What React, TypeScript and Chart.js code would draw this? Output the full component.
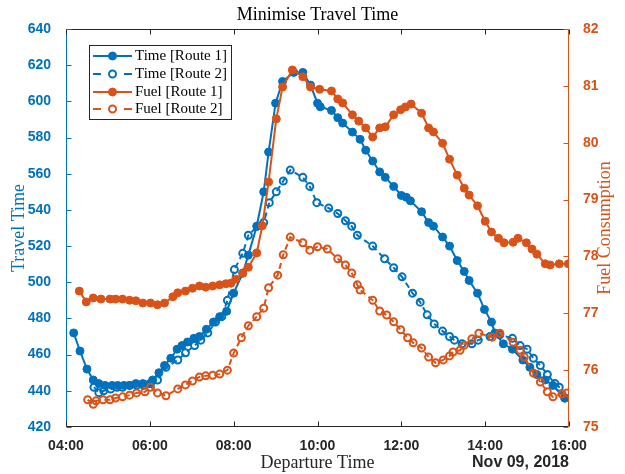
import React, { useEffect, useRef } from 'react';
import { Chart, registerables } from 'chart.js';

Chart.register(...registerables);

const BLUE = '#0072BD';
const ORANGE = '#D95319';
const DARK = '#262626';
const SERIF = '"Liberation Serif", "Times New Roman", serif';
const SANS = '"Liberation Sans", Arial, sans-serif';

const chartTitle = 'Minimise Travel Time';
const xTitle = 'Departure Time';
const leftTitle = 'Travel Time';
const rightTitle = 'Fuel Consumption';
const dateLabel = 'Nov 09, 2018';
const seriesLabels = ['Time [Route 1]', 'Time [Route 2]', 'Fuel [Route 1]', 'Fuel [Route 2]'];

// x axis: minutes after midnight
const xMin = 240;
const xMax = 960;
const xStep = 120;
const leftTicks = { min: 420, max: 640, step: 20 };
const rightTicks = { min: 75, max: 82, step: 1 };

const timeRoute1Minutes = [251, 260, 270, 279, 287, 296, 306, 314, 323, 331, 340, 350, 360, 364, 373, 381, 390, 399, 406, 414, 423, 431, 441, 451, 460, 470, 480, 493, 501, 513, 523, 530, 540, 550, 566, 579, 590, 600, 604, 620, 629, 636, 650, 661, 669, 679, 689, 697, 709, 720, 727, 733, 749, 759, 766, 779, 789, 800, 810, 817, 829, 839, 849, 854, 866, 879, 894, 904, 914, 926, 937, 954];
const timeRoute1Values = [472, 462, 452, 446, 444, 443, 443, 443, 443, 443, 444, 444, 444, 446, 450, 454, 458, 463, 465, 467, 469, 470, 474, 478, 481, 484, 494, 505, 515, 531, 550, 572, 599, 611, 616, 616, 609, 599, 597, 595, 591, 588, 583, 579, 573, 567, 561, 558, 553, 548, 547, 545, 539, 533, 531, 525, 520, 512, 506, 501, 494, 485, 478, 472, 466, 463, 457, 453, 449, 446, 443, 436];

const timeRoute2Minutes = [280, 287, 294, 304, 313, 321, 331, 341, 351, 361, 371, 383, 400, 411, 424, 433, 443, 454, 463, 471, 481, 493, 501, 514, 523, 531, 541, 551, 561, 579, 589, 599, 616, 629, 640, 649, 657, 679, 696, 709, 721, 736, 747, 757, 767, 779, 789, 796, 807, 821, 830, 847, 861, 879, 890, 900, 909, 919, 929, 940, 946, 954];
const timeRoute2Values = [442, 439, 440, 441, 442, 442, 443, 443, 443, 444, 446, 453, 457, 461, 465, 468, 472, 478, 481, 490, 507, 516, 526, 531, 533, 544, 550, 556, 562, 558, 553, 544, 541, 538, 534, 531, 526, 520, 513, 508, 503, 494, 489, 482, 477, 473, 470, 468, 466, 466, 468, 470, 471, 469, 465, 463, 458, 454, 449, 444, 442, 436];

const fuelRoute1Minutes = [259, 269, 279, 290, 303, 311, 321, 331, 340, 350, 361, 371, 381, 393, 400, 411, 421, 431, 440, 450, 460, 469, 476, 483, 493, 501, 513, 521, 530, 541, 550, 564, 579, 590, 603, 620, 629, 636, 650, 659, 669, 679, 689, 697, 709, 719, 726, 734, 749, 759, 766, 779, 789, 800, 810, 817, 829, 840, 849, 859, 867, 880, 887, 899, 907, 914, 926, 933, 946, 959];
const fuelRoute1Values = [77.39, 77.2, 77.27, 77.25, 77.25, 77.25, 77.25, 77.23, 77.22, 77.18, 77.18, 77.15, 77.18, 77.29, 77.36, 77.39, 77.44, 77.48, 77.46, 77.48, 77.5, 77.52, 77.53, 77.6, 77.71, 77.81, 78.06, 78.54, 79.31, 80.42, 80.98, 81.28, 81.16, 80.98, 80.94, 80.91, 80.77, 80.7, 80.49, 80.38, 80.26, 80.1, 80.26, 80.28, 80.49, 80.58, 80.63, 80.68, 80.52, 80.26, 80.19, 79.99, 79.71, 79.43, 79.2, 79.08, 78.89, 78.62, 78.43, 78.32, 78.24, 78.25, 78.32, 78.24, 78.13, 78.04, 77.87, 77.85, 77.87, 77.87];

const fuelRoute2Minutes = [271, 279, 283, 293, 303, 311, 321, 331, 341, 353, 361, 371, 383, 400, 411, 421, 431, 440, 450, 460, 471, 480, 491, 501, 513, 523, 530, 543, 551, 561, 579, 589, 600, 614, 629, 640, 649, 657, 661, 679, 689, 699, 709, 719, 729, 737, 749, 759, 769, 780, 789, 794, 804, 810, 821, 831, 850, 861, 880, 890, 896, 909, 919, 929, 937, 950, 957];
const fuelRoute2Values = [75.48, 75.4, 75.46, 75.48, 75.48, 75.51, 75.53, 75.56, 75.6, 75.62, 75.7, 75.6, 75.55, 75.67, 75.74, 75.81, 75.88, 75.9, 75.91, 75.93, 76.0, 76.3, 76.57, 76.78, 76.94, 77.09, 77.45, 77.67, 78.03, 78.34, 78.24, 78.11, 78.17, 78.13, 77.96, 77.85, 77.71, 77.5, 77.41, 77.23, 77.04, 76.97, 76.85, 76.71, 76.57, 76.48, 76.39, 76.23, 76.13, 76.18, 76.25, 76.32, 76.35, 76.44, 76.55, 76.65, 76.58, 76.65, 76.49, 76.35, 76.23, 75.95, 75.79, 75.62, 75.53, 75.58, 75.6];

const toPoints = (xs: number[], ys: number[]) => xs.map((x, i) => ({ x, y: ys[i] }));

const fmtTime = (v: number) => {
  const h = Math.floor(v / 60);
  const m = Math.round(v % 60);
  return `${String(h).padStart(2, '0')}:${String(m).padStart(2, '0')}`;
};

const decorPlugin = {
  id: 'decor',
  afterDraw(chart: any) {
    const { ctx, chartArea: a, scales } = chart;
    const xs = scales.x;
    const yl = scales.y;
    const yr = scales.y1;
    ctx.save();
    ctx.lineWidth = 1;
    ctx.setLineDash([]);
    const seg = (x1: number, y1: number, x2: number, y2: number, c: string) => {
      ctx.strokeStyle = c;
      ctx.beginPath();
      ctx.moveTo(x1, y1);
      ctx.lineTo(x2, y2);
      ctx.stroke();
    };
    const L = Math.round(a.left) + 0.5;
    const R = Math.round(a.right) - 0.5;
    const T = Math.round(a.top) + 0.5;
    const B = Math.round(a.bottom) - 0.5;
    const TL = 5;
    // frame
    seg(L, T, R, T, DARK);
    seg(L, B, R, B, DARK);
    seg(L, T, L, B, BLUE);
    seg(R, T, R, B, ORANGE);
    // x ticks (inward, bottom and top)
    xs.ticks.forEach((t: any) => {
      const px = Math.round(xs.getPixelForValue(t.value)) + 0.5;
      seg(px, B, px, B - TL, DARK);
      seg(px, T, px, T + TL, DARK);
    });
    yl.ticks.forEach((t: any) => {
      const py = Math.round(yl.getPixelForValue(t.value)) + 0.5;
      seg(L, py, L + TL, py, BLUE);
    });
    yr.ticks.forEach((t: any) => {
      const py = Math.round(yr.getPixelForValue(t.value)) + 0.5;
      seg(R, py, R - TL, py, ORANGE);
    });

    const cx = (a.left + a.right) / 2;
    const cy = (a.top + a.bottom) / 2;
    // title
    ctx.fillStyle = '#000';
    ctx.font = `18px ${SERIF}`;
    ctx.textAlign = 'center';
    ctx.textBaseline = 'middle';
    ctx.fillText(chartTitle, cx, 15);
    // x title
    ctx.fillStyle = DARK;
    ctx.fillText(xTitle, cx, 463);
    // date label
    ctx.font = `bold 16px ${SANS}`;
    ctx.textAlign = 'right';
    ctx.fillText(dateLabel, a.right, 463);
    // left title
    ctx.font = `18px ${SERIF}`;
    ctx.textAlign = 'center';
    ctx.save();
    ctx.translate(19, cy);
    ctx.rotate(-Math.PI / 2);
    ctx.fillStyle = BLUE;
    ctx.fillText(leftTitle, 0, 0);
    ctx.restore();
    ctx.save();
    ctx.translate(605, cy);
    ctx.rotate(-Math.PI / 2);
    ctx.fillStyle = ORANGE;
    ctx.fillText(rightTitle, 0, 0);
    ctx.restore();

    // legend
    const bx = 89.5, by = 45.5, bw = 142, bh = 74;
    ctx.fillStyle = '#fff';
    ctx.fillRect(bx, by, bw, bh);
    ctx.strokeStyle = DARK;
    ctx.strokeRect(bx, by, bw, bh);
    const rowY = [56, 74, 92, 109];
    chart.data.datasets.forEach((ds: any, i: number) => {
      const y = rowY[i];
      ctx.strokeStyle = ds.borderColor;
      ctx.lineWidth = ds.borderWidth;
      if (ds.borderDash && ds.borderDash.length) {
        ctx.setLineDash([8, 23]);
      } else {
        ctx.setLineDash([]);
      }
      ctx.beginPath();
      ctx.moveTo(93, y);
      ctx.lineTo(132, y);
      ctx.stroke();
      ctx.setLineDash([]);
      ctx.beginPath();
      ctx.arc(112.5, y, ds.pointRadius, 0, Math.PI * 2);
      ctx.fillStyle = ds.pointBackgroundColor;
      ctx.fill();
      ctx.lineWidth = ds.pointBorderWidth;
      ctx.strokeStyle = ds.pointBorderColor;
      ctx.stroke();
      ctx.fillStyle = '#000';
      ctx.font = `15px ${SERIF}`;
      ctx.textAlign = 'left';
      ctx.textBaseline = 'middle';
      ctx.fillText(ds.label, 135, y);
    });
    ctx.restore();
  },
};

export default function App() {
  const ref = useRef<HTMLCanvasElement | null>(null);
  useEffect(() => {
    if (!ref.current) return;
    const solid = (color: string) => ({
      borderColor: color,
      backgroundColor: color,
      pointBackgroundColor: color,
      pointBorderColor: color,
      pointRadius: 4,
      pointBorderWidth: 1,
      borderWidth: 2,
      tension: 0,
    });
    const open = (color: string) => ({
      borderColor: color,
      backgroundColor: color,
      pointBackgroundColor: 'rgba(0,0,0,0)',
      pointBorderColor: color,
      pointRadius: 3.5,
      pointBorderWidth: 2,
      borderWidth: 2,
      borderDash: [6, 4],
      tension: 0,
    });
    const chart = new Chart(ref.current, {
      type: 'line',
      data: {
        datasets: [
          { label: seriesLabels[0], data: toPoints(timeRoute1Minutes, timeRoute1Values), yAxisID: 'y', order: 4, ...solid(BLUE) },
          { label: seriesLabels[1], data: toPoints(timeRoute2Minutes, timeRoute2Values), yAxisID: 'y', order: 3, ...open(BLUE) },
          { label: seriesLabels[2], data: toPoints(fuelRoute1Minutes, fuelRoute1Values), yAxisID: 'y1', order: 2, ...solid(ORANGE) },
          { label: seriesLabels[3], data: toPoints(fuelRoute2Minutes, fuelRoute2Values), yAxisID: 'y1', order: 1, ...open(ORANGE) },
        ] as any,
      },
      options: {
        responsive: false,
        animation: false,
        devicePixelRatio: 1,
        layout: { padding: { top: 29, left: 0, right: 0, bottom: 0 } },
        plugins: {
          legend: { display: false },
          title: { display: false },
          tooltip: { enabled: false },
        },
        scales: {
          x: {
            type: 'linear',
            position: 'bottom',
            min: xMin,
            max: xMax,
            grid: { display: false },
            border: { display: false },
            ticks: {
              stepSize: xStep,
              autoSkip: false,
              maxRotation: 0,
              padding: 3,
              color: DARK,
              font: { family: SANS, size: 14, weight: 'bold' },
              callback: (v: any) => fmtTime(Number(v)),
            },
            afterFit: (s: any) => { s.height = 47; },
          },
          y: {
            type: 'linear',
            position: 'left',
            min: leftTicks.min,
            max: leftTicks.max,
            grid: { display: false },
            border: { display: false },
            ticks: {
              stepSize: leftTicks.step,
              padding: 7,
              color: BLUE,
              font: { family: SANS, size: 14, weight: 'bold' },
            },
            afterFit: (s: any) => { s.width = 66; },
          },
          y1: {
            type: 'linear',
            position: 'right',
            min: rightTicks.min,
            max: rightTicks.max,
            grid: { display: false },
            border: { display: false },
            ticks: {
              stepSize: rightTicks.step,
              padding: 6,
              color: ORANGE,
              font: { family: SANS, size: 14, weight: 'bold' },
            },
            afterFit: (s: any) => { s.width = 56; },
          },
        },
      } as any,
      plugins: [decorPlugin],
    });
    return () => chart.destroy();
  }, []);
  return (
    <div style={{ position: 'fixed', left: 0, top: 0, width: 625, height: 474, background: '#fff' }}>
      <canvas ref={ref} width={625} height={474} style={{ display: 'block' }} />
    </div>
  );
}
